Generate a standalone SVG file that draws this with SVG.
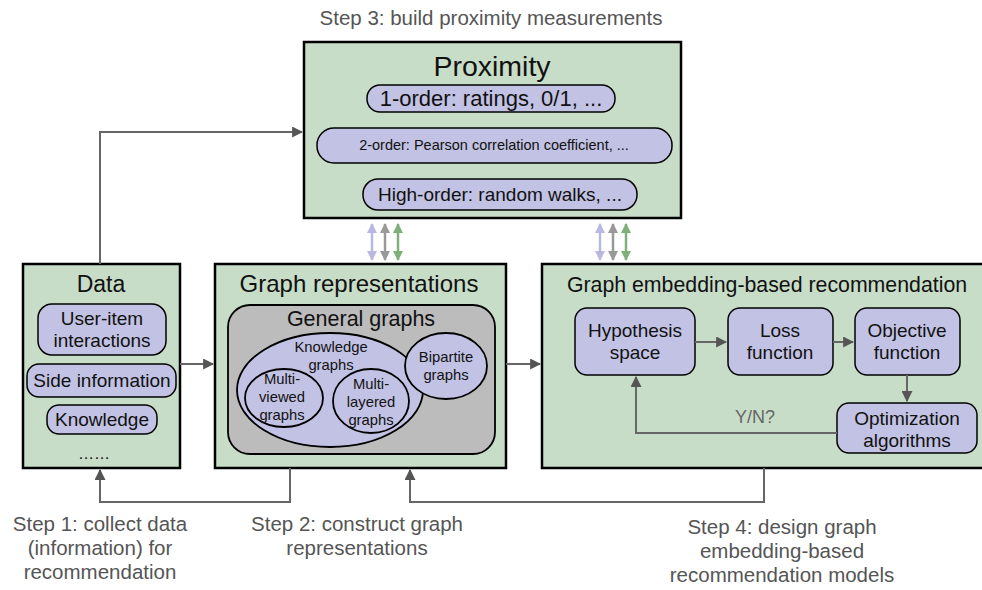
<svg xmlns="http://www.w3.org/2000/svg" width="982" height="590" viewBox="0 0 982 590">
<defs>
<style>
text{font-family:"Liberation Sans",Arial,sans-serif;fill:#111;text-anchor:middle}
.box{fill:#c8ddc8;stroke:#000;stroke-width:2.5}
.pill{fill:#c2c2e4;stroke:#000;stroke-width:1.5}
.ell{fill:#c2c2e4;stroke:#000;stroke-width:1.8}
.con{fill:none;stroke:#666;stroke-width:2}
.step{fill:#555;font-size:20.5px}
.et{font-size:14.8px}
.nt{font-size:19px}
</style>
<marker id="ah" viewBox="0 0 10 10" refX="9" refY="5" markerWidth="5.5" markerHeight="5.5" orient="auto-start-reverse" markerUnits="strokeWidth"><path d="M0,0 L10,5 L0,10 z" fill="#555"/></marker>
<marker id="ap" viewBox="0 0 10 10" refX="9" refY="5" markerWidth="4" markerHeight="4" orient="auto-start-reverse" markerUnits="strokeWidth"><path d="M0,0 L10,5 L0,10 z" fill="#b8b8e2"/></marker>
<marker id="ag" viewBox="0 0 10 10" refX="9" refY="5" markerWidth="4" markerHeight="4" orient="auto-start-reverse" markerUnits="strokeWidth"><path d="M0,0 L10,5 L0,10 z" fill="#999"/></marker>
<marker id="av" viewBox="0 0 10 10" refX="9" refY="5" markerWidth="4" markerHeight="4" orient="auto-start-reverse" markerUnits="strokeWidth"><path d="M0,0 L10,5 L0,10 z" fill="#7fb07c"/></marker>
</defs>

<text class="step" x="491" y="25">Step 3: build proximity measurements</text>

<g id="proximity">
<rect class="box" x="304" y="42" width="377" height="176"/>
<text x="492" y="76" font-size="28.5">Proximity</text>
<rect class="pill" x="367" y="85" width="248" height="27" rx="13"/>
<text x="491" y="106" font-size="22">1-order: ratings, 0/1, ...</text>
<rect class="pill" x="317" y="128" width="355" height="35" rx="17"/>
<text x="494" y="150" font-size="14.5">2-order: Pearson correlation coefficient, ...</text>
<rect class="pill" x="363" y="179" width="274" height="31" rx="15"/>
<text x="500" y="201" font-size="19">High-order: random walks, ...</text>
</g>

<g id="data">
<rect class="box" x="23" y="264" width="157" height="204"/>
<text x="101" y="292" font-size="23">Data</text>
<rect class="pill" x="38" y="304" width="128" height="51" rx="14"/>
<text class="nt" x="102" y="325">User-item</text>
<text class="nt" x="102" y="347">interactions</text>
<rect class="pill" x="27" y="364" width="149" height="33" rx="12"/>
<text class="nt" x="102" y="387">Side information</text>
<rect class="pill" x="47" y="405" width="110" height="29" rx="12"/>
<text class="nt" x="102" y="426">Knowledge</text>
<text x="94" y="459" font-size="16">……</text>
</g>

<g id="graph-representations">
<rect class="box" x="215" y="264" width="291" height="204"/>
<text x="359" y="292" font-size="24">Graph representations</text>
<rect x="228" y="305" width="267" height="149" rx="22" fill="#bcbcbc" stroke="#000" stroke-width="1.8"/>
<text x="361" y="326" font-size="21.5">General graphs</text>
<ellipse class="ell" cx="330" cy="390" rx="93" ry="57"/>
<text class="et" x="331" y="352">Knowledge</text>
<text class="et" x="331" y="370">graphs</text>
<ellipse class="ell" cx="284" cy="398" rx="39" ry="29"/>
<text class="et" x="282" y="384">Multi-</text>
<text class="et" x="282" y="402">viewed</text>
<text class="et" x="282" y="420">graphs</text>
<ellipse class="ell" cx="371" cy="401" rx="38" ry="32"/>
<text class="et" x="371" y="389">Multi-</text>
<text class="et" x="371" y="407">layered</text>
<text class="et" x="371" y="425">graphs</text>
<ellipse class="ell" cx="446" cy="366" rx="41" ry="33"/>
<text class="et" x="446" y="362">Bipartite</text>
<text class="et" x="446" y="380">graphs</text>
</g>

<g id="gebr">
<rect class="box" x="542" y="264" width="445" height="204"/>
<text x="767" y="292" font-size="21.3">Graph embedding-based recommendation</text>
<g id="hypothesis">
<rect class="pill" x="575" y="308" width="120" height="67" rx="12"/>
<text class="nt" x="635" y="337">Hypothesis</text>
<text class="nt" x="635" y="359">space</text>
</g>
<g id="loss">
<rect class="pill" x="728" y="308" width="105" height="67" rx="12"/>
<text class="nt" x="780" y="337">Loss</text>
<text class="nt" x="780" y="359">function</text>
</g>
<g id="objective">
<rect class="pill" x="855" y="308" width="105" height="67" rx="12"/>
<text class="nt" x="907" y="337">Objective</text>
<text class="nt" x="907" y="359">function</text>
</g>
<g id="optimization">
<rect class="pill" x="837" y="403" width="140" height="50" rx="12"/>
<text class="nt" x="907" y="425">Optimization</text>
<text class="nt" x="907" y="447">algorithms</text>
</g>
</g>

<g id="connectors">
<path class="con" d="M100,264 V132 H302" marker-end="url(#ah)"/>
<path class="con" d="M180,364 H213" marker-end="url(#ah)"/>
<path class="con" d="M506,364 H540" marker-end="url(#ah)"/>
<path class="con" d="M695,342 H726" marker-end="url(#ah)"/>
<path class="con" d="M833,342 H853" marker-end="url(#ah)"/>
<path class="con" d="M907,375 V401" marker-end="url(#ah)"/>
<path class="con" d="M837,433 H636 V377" marker-end="url(#ah)"/>
<text x="755" y="423" font-size="18" style="fill:#666">Y/N?</text>
<path class="con" d="M290,468 V502 H100 V470" marker-end="url(#ah)"/>
<path class="con" d="M764,468 V502 H410 V470" marker-end="url(#ah)"/>
<path d="M372,224 V260" stroke="#b8b8e2" stroke-width="2.5" marker-start="url(#ap)" marker-end="url(#ap)"/>
<path d="M385,224 V260" stroke="#999" stroke-width="2.5" marker-start="url(#ag)" marker-end="url(#ag)"/>
<path d="M398,224 V260" stroke="#7fb07c" stroke-width="2.5" marker-start="url(#av)" marker-end="url(#av)"/>
<path d="M600,224 V260" stroke="#b8b8e2" stroke-width="2.5" marker-start="url(#ap)" marker-end="url(#ap)"/>
<path d="M613,224 V260" stroke="#999" stroke-width="2.5" marker-start="url(#ag)" marker-end="url(#ag)"/>
<path d="M626,224 V260" stroke="#7fb07c" stroke-width="2.5" marker-start="url(#av)" marker-end="url(#av)"/>
</g>

<text class="step" x="100" y="531">Step 1: collect data</text>
<text class="step" x="100" y="555">(information) for</text>
<text class="step" x="100" y="579">recommendation</text>
<text class="step" x="357" y="531">Step 2: construct graph</text>
<text class="step" x="357" y="555">representations</text>
<text class="step" x="782" y="534">Step 4: design graph</text>
<text class="step" x="782" y="558">embedding-based</text>
<text class="step" x="782" y="582">recommendation models</text>
</svg>
